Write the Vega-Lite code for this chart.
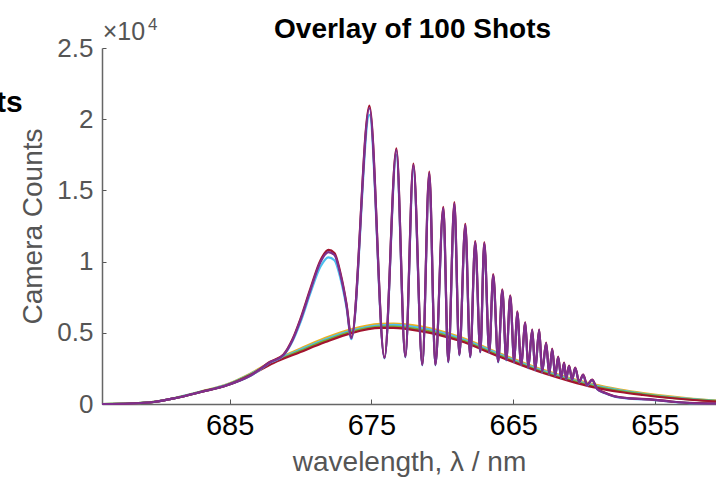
{
  "$schema": "https://vega.github.io/schema/vega-lite/v6.json",
  "width": 614,
  "height": 356,
  "autosize": {"type": "none"},
  "padding": {"left": 102, "top": 48, "right": 0, "bottom": 82},
  "background": "white",
  "config": {"view": {"stroke": null}, "font": "Liberation Sans"},
  "datasets": {
    "smooth": [
      {"wl": 694.0, "smooth1": 0, "smooth2": 0, "smooth3": 0, "smooth4": 0},
      {"wl": 691.97, "smooth1": 40, "smooth2": 38, "smooth3": 37, "smooth4": 35},
      {"wl": 690.35, "smooth1": 150, "smooth2": 146, "smooth3": 143, "smooth4": 140},
      {"wl": 688.8, "smooth1": 440, "smooth2": 432, "smooth3": 426, "smooth4": 420},
      {"wl": 687.04, "smooth1": 880, "smooth2": 866, "smooth3": 853, "smooth4": 840},
      {"wl": 685.14, "smooth1": 1400, "smooth2": 1380, "smooth3": 1355, "smooth4": 1330},
      {"wl": 683.52, "smooth1": 2150, "smooth2": 2110, "smooth3": 2075, "smooth4": 2040},
      {"wl": 681.9, "smooth1": 3050, "smooth2": 2990, "smooth3": 2930, "smooth4": 2880},
      {"wl": 680.0, "smooth1": 3900, "smooth2": 3820, "smooth3": 3730, "smooth4": 3650},
      {"wl": 678.24, "smooth1": 4650, "smooth2": 4550, "smooth3": 4450, "smooth4": 4350},
      {"wl": 676.41, "smooth1": 5250, "smooth2": 5160, "smooth3": 5070, "smooth4": 4980},
      {"wl": 674.37, "smooth1": 5620, "smooth2": 5530, "smooth3": 5430, "smooth4": 5340},
      {"wl": 673.45, "smooth1": 5650, "smooth2": 5550, "smooth3": 5440, "smooth4": 5340},
      {"wl": 671.55, "smooth1": 5450, "smooth2": 5340, "smooth3": 5230, "smooth4": 5120},
      {"wl": 668.73, "smooth1": 4700, "smooth2": 4610, "smooth3": 4510, "smooth4": 4420},
      {"wl": 665.92, "smooth1": 3550, "smooth2": 3470, "smooth3": 3380, "smooth4": 3300},
      {"wl": 662.89, "smooth1": 2400, "smooth2": 2330, "smooth3": 2250, "smooth4": 2180},
      {"wl": 661.0, "smooth1": 1830, "smooth2": 1760, "smooth3": 1680, "smooth4": 1610},
      {"wl": 659.37, "smooth1": 1400, "smooth2": 1330, "smooth3": 1260, "smooth4": 1190},
      {"wl": 657.46, "smooth1": 1020, "smooth2": 960, "smooth3": 900, "smooth4": 840},
      {"wl": 655.85, "smooth1": 770, "smooth2": 720, "smooth3": 680, "smooth4": 630},
      {"wl": 653.94, "smooth1": 530, "smooth2": 490, "smooth3": 450, "smooth4": 420},
      {"wl": 652.32, "smooth1": 370, "smooth2": 340, "smooth3": 310, "smooth4": 280},
      {"wl": 650.7, "smooth1": 250, "smooth2": 220, "smooth3": 200, "smooth4": 175}
    ],
    "fringed": [
      {"wl": 694.0, "fringe1": 0, "fringe2": 0, "fringe3": 0},
      {"wl": 691.97, "fringe1": 35, "fringe2": 35, "fringe3": 35},
      {"wl": 690.35, "fringe1": 140, "fringe2": 140, "fringe3": 140},
      {"wl": 688.8, "fringe1": 420, "fringe2": 420, "fringe3": 420},
      {"wl": 687.04, "fringe1": 840, "fringe2": 840, "fringe3": 840},
      {"wl": 685.14, "fringe1": 1330, "fringe2": 1330, "fringe3": 1330},
      {"wl": 683.52, "fringe1": 1980, "fringe2": 2020, "fringe3": 2000},
      {"wl": 682.11, "fringe1": 2920, "fringe2": 2980, "fringe3": 2950},
      {"wl": 681.2, "fringe1": 3400, "fringe2": 3480, "fringe3": 3440},
      {"wl": 680.56, "fringe1": 4420, "fringe2": 4560, "fringe3": 4490},
      {"wl": 680.0, "fringe1": 5750, "fringe2": 6000, "fringe3": 5900},
      {"wl": 679.3, "fringe1": 7800, "fringe2": 8120, "fringe3": 8000},
      {"wl": 678.59, "fringe1": 9650, "fringe2": 10100, "fringe3": 9970},
      {"wl": 678.03, "fringe1": 10300, "fringe2": 10820, "fringe3": 10670},
      {"wl": 677.61, "fringe1": 10100, "fringe2": 10600, "fringe3": 10460},
      {"wl": 677.18, "fringe1": 8800, "fringe2": 9180, "fringe3": 9060},
      {"wl": 676.76, "fringe1": 6800, "fringe2": 7050, "fringe3": 6950},
      {"wl": 676.41, "fringe1": 4550, "fringe2": 4700, "fringe3": 4630},
      {"wl": 675.14, "fringe1": 20300, "fringe2": 20950, "fringe3": 20780},
      {"wl": 674.08, "fringe1": 3200, "fringe2": 3260, "fringe3": 3230},
      {"wl": 673.24, "fringe1": 17500, "fringe2": 17950, "fringe3": 17830},
      {"wl": 672.61, "fringe1": 3270, "fringe2": 3330, "fringe3": 3300},
      {"wl": 672.04, "fringe1": 16500, "fringe2": 16880, "fringe3": 16780},
      {"wl": 671.41, "fringe1": 2710, "fringe2": 2770, "fringe3": 2740},
      {"wl": 670.92, "fringe1": 15950, "fringe2": 16320, "fringe3": 16220},
      {"wl": 670.49, "fringe1": 2710, "fringe2": 2770, "fringe3": 2740},
      {"wl": 669.93, "fringe1": 13550, "fringe2": 13850, "fringe3": 13760},
      {"wl": 669.58, "fringe1": 2920, "fringe2": 2980, "fringe3": 2950},
      {"wl": 669.15, "fringe1": 13850, "fringe2": 14170, "fringe3": 14080},
      {"wl": 668.8, "fringe1": 3410, "fringe2": 3470, "fringe3": 3440},
      {"wl": 668.38, "fringe1": 12380, "fringe2": 12650, "fringe3": 12570},
      {"wl": 668.03, "fringe1": 3270, "fringe2": 3330, "fringe3": 3300},
      {"wl": 667.68, "fringe1": 11200, "fringe2": 11440, "fringe3": 11370},
      {"wl": 667.32, "fringe1": 3620, "fringe2": 3680, "fringe3": 3650},
      {"wl": 667.04, "fringe1": 11130, "fringe2": 11370, "fringe3": 11300},
      {"wl": 666.69, "fringe1": 3620, "fringe2": 3680, "fringe3": 3650},
      {"wl": 666.41, "fringe1": 8930, "fringe2": 9120, "fringe3": 9060},
      {"wl": 666.06, "fringe1": 2920, "fringe2": 2980, "fringe3": 2950},
      {"wl": 665.77, "fringe1": 7880, "fringe2": 8050, "fringe3": 8000},
      {"wl": 665.49, "fringe1": 3060, "fringe2": 3120, "fringe3": 3090},
      {"wl": 665.21, "fringe1": 7470, "fringe2": 7630, "fringe3": 7580},
      {"wl": 664.93, "fringe1": 2920, "fringe2": 2980, "fringe3": 2950},
      {"wl": 664.72, "fringe1": 6370, "fringe2": 6500, "fringe3": 6460},
      {"wl": 664.44, "fringe1": 2710, "fringe2": 2770, "fringe3": 2740},
      {"wl": 664.15, "fringe1": 5610, "fringe2": 5730, "fringe3": 5690},
      {"wl": 663.94, "fringe1": 2500, "fringe2": 2560, "fringe3": 2530},
      {"wl": 663.66, "fringe1": 5130, "fringe2": 5230, "fringe3": 5200},
      {"wl": 663.45, "fringe1": 2360, "fringe2": 2410, "fringe3": 2390},
      {"wl": 663.17, "fringe1": 5130, "fringe2": 5230, "fringe3": 5200},
      {"wl": 662.96, "fringe1": 2220, "fringe2": 2270, "fringe3": 2250},
      {"wl": 662.68, "fringe1": 4220, "fringe2": 4310, "fringe3": 4280},
      {"wl": 662.46, "fringe1": 2080, "fringe2": 2120, "fringe3": 2100},
      {"wl": 662.25, "fringe1": 3810, "fringe2": 3890, "fringe3": 3860},
      {"wl": 662.04, "fringe1": 1950, "fringe2": 1990, "fringe3": 1970},
      {"wl": 661.83, "fringe1": 3260, "fringe2": 3320, "fringe3": 3300},
      {"wl": 661.62, "fringe1": 1810, "fringe2": 1850, "fringe3": 1830},
      {"wl": 661.41, "fringe1": 2840, "fringe2": 2900, "fringe3": 2880},
      {"wl": 661.27, "fringe1": 1740, "fringe2": 1780, "fringe3": 1760},
      {"wl": 661.06, "fringe1": 2640, "fringe2": 2690, "fringe3": 2670},
      {"wl": 660.85, "fringe1": 1670, "fringe2": 1710, "fringe3": 1690},
      {"wl": 660.63, "fringe1": 2500, "fringe2": 2550, "fringe3": 2530},
      {"wl": 660.35, "fringe1": 1520, "fringe2": 1560, "fringe3": 1540},
      {"wl": 660.07, "fringe1": 2020, "fringe2": 2060, "fringe3": 2040},
      {"wl": 659.79, "fringe1": 1310, "fringe2": 1350, "fringe3": 1330},
      {"wl": 659.44, "fringe1": 1670, "fringe2": 1710, "fringe3": 1690},
      {"wl": 659.08, "fringe1": 1030, "fringe2": 1070, "fringe3": 1050},
      {"wl": 658.52, "fringe1": 760, "fringe2": 790, "fringe3": 770},
      {"wl": 657.96, "fringe1": 550, "fringe2": 575, "fringe3": 560},
      {"wl": 656.76, "fringe1": 380, "fringe2": 400, "fringe3": 390},
      {"wl": 655.35, "fringe1": 310, "fringe2": 330, "fringe3": 320},
      {"wl": 653.94, "fringe1": 170, "fringe2": 185, "fringe3": 175},
      {"wl": 652.54, "fringe1": 65, "fringe2": 75, "fringe3": 70},
      {"wl": 650.7, "fringe1": 30, "fringe2": 40, "fringe3": 35}
    ]
  },
  "layer": [
    {
      "data": {"name": "smooth"},
      "transform": [{"fold": ["smooth1", "smooth2", "smooth3", "smooth4"], "as": ["shot", "counts"]}],
      "mark": {"type": "line", "interpolate": "monotone", "strokeWidth": 2.2},
      "encoding": {
        "x": {
          "field": "wl",
          "type": "quantitative",
          "scale": {"domain": [650.7, 694.0], "reverse": true, "nice": false, "zero": false},
          "axis": {
            "values": [685, 675, 665, 655],
            "format": "d",
            "title": "wavelength, λ / nm",
            "titleFontSize": 28,
            "titleFontWeight": "normal",
            "titleColor": "#555555",
            "titlePadding": 8,
            "labelFontSize": 29,
            "labelColor": "#000000",
            "labelPadding": 12,
            "labelFlush": false,
            "labelOverlap": false,
            "tickSize": -5,
            "tickColor": "#555555",
            "domainColor": "#666666",
            "domainWidth": 1.5,
            "grid": false
          }
        },
        "y": {
          "field": "counts",
          "type": "quantitative",
          "scale": {"domain": [0, 25000], "nice": false},
          "axis": {
            "values": [0, 5000, 10000, 15000, 20000, 25000],
            "labelExpr": "'' + datum.value / 10000",
            "title": "Camera Counts",
            "titleFontSize": 28,
            "titleFontWeight": "normal",
            "titleColor": "#555555",
            "titlePadding": 9,
            "labelFontSize": 26,
            "labelColor": "#555555",
            "labelPadding": 13,
            "tickSize": -4,
            "tickColor": "#555555",
            "domainColor": "#666666",
            "domainWidth": 1.5,
            "grid": false
          }
        },
        "color": {
          "field": "shot",
          "type": "nominal",
          "scale": {
            "domain": ["smooth1", "smooth2", "smooth3", "smooth4", "fringe1", "fringe2", "fringe3"],
            "range": ["#EDB120", "#4DBEEE", "#77AC30", "#A2142F", "#4DBEEE", "#A2142F", "#7E2F8E"]
          },
          "legend": null
        }
      }
    },
    {
      "data": {"name": "fringed"},
      "transform": [{"fold": ["fringe1", "fringe2", "fringe3"], "as": ["shot", "counts"]}],
      "mark": {"type": "line", "interpolate": "monotone", "strokeWidth": 2.2},
      "encoding": {
        "x": {"field": "wl", "type": "quantitative"},
        "y": {"field": "counts", "type": "quantitative"},
        "color": {"field": "shot", "type": "nominal", "legend": null}
      }
    },
    {
      "data": {"values": [{}]},
      "mark": {"type": "text", "align": "center", "baseline": "alphabetic", "fontSize": 28, "fontWeight": "bold", "color": "#000000"},
      "encoding": {
        "x": {"datum": 672.1, "type": "quantitative"},
        "y": {"datum": 25700, "type": "quantitative"},
        "text": {"value": "Overlay of 100 Shots"}
      }
    },
    {
      "data": {"values": [{}]},
      "mark": {"type": "text", "align": "left", "baseline": "alphabetic", "fontSize": 25, "color": "#555555"},
      "encoding": {
        "x": {"datum": 693.95, "type": "quantitative"},
        "y": {"datum": 25550, "type": "quantitative"},
        "text": {"value": "×10"}
      }
    },
    {
      "data": {"values": [{}]},
      "mark": {"type": "text", "align": "left", "baseline": "alphabetic", "fontSize": 17, "color": "#555555"},
      "encoding": {
        "x": {"datum": 690.75, "type": "quantitative"},
        "y": {"datum": 26250, "type": "quantitative"},
        "text": {"value": "4"}
      }
    },
    {
      "data": {"values": [{}]},
      "mark": {"type": "text", "align": "right", "baseline": "alphabetic", "fontSize": 30, "fontWeight": "bold", "color": "#000000"},
      "encoding": {
        "x": {"datum": 699.6, "type": "quantitative"},
        "y": {"datum": 20500, "type": "quantitative"},
        "text": {"value": "ts"}
      }
    }
  ]
}
